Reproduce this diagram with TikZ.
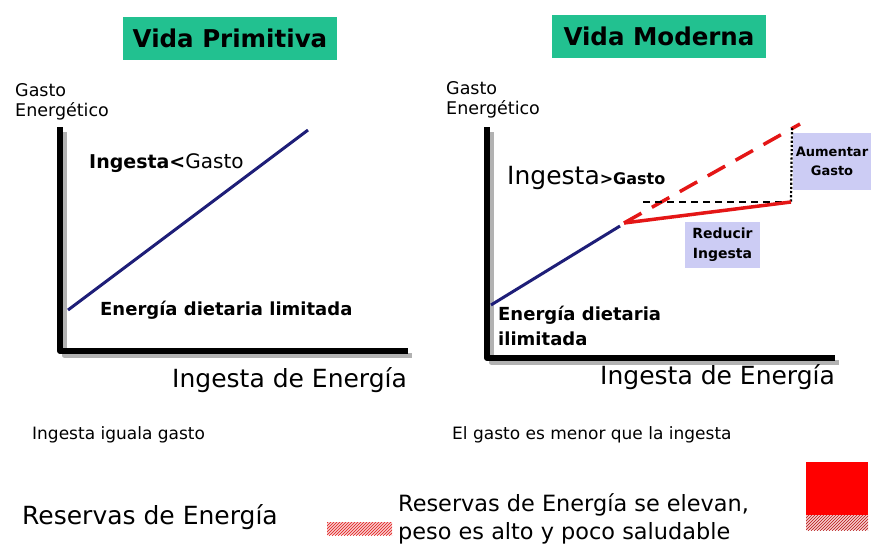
\documentclass[tikz,border=0pt]{standalone}
\usepackage{fontspec}
\setmainfont{DejaVu Sans}
\usetikzlibrary{patterns}
\definecolor{titgreen}{HTML}{22C190}
\definecolor{boxlila}{HTML}{CCCCF4}
\definecolor{lineblue}{HTML}{1E1E78}
\definecolor{linered}{HTML}{E41616}
\definecolor{hatchpink}{HTML}{F6CCCC}

\begin{document}
\begin{tikzpicture}[x=1pt, y=-1pt, line join=round,
	titbox/.style={fill=titgreen, font=\fontsize{24.5}{28}\selectfont\bfseries, minimum width=214pt, minimum height=43pt, inner sep=0pt},
	txt/.style={anchor=west, inner sep=0pt, align=left},
	lilabox/.style={fill=boxlila, align=center, font=\fontsize{13}{19}\selectfont\bfseries, inner sep=0pt},
	eje/.style={line width=6pt, line cap=rect},
	ejesombra/.style={line width=5pt, black!30, line cap=rect}]
	\useasboundingbox (0,0) rectangle (871,550);

	\node[titbox] (titA) at (230,38.5) {Vida Primitiva};
	\node[titbox] (titB) at (659,36.5) {Vida Moderna};

	\node[txt, font=\fontsize{17.5}{20}\selectfont] (gastoA) at (15,102) {Gasto\\Energético};
	\node[txt, font=\fontsize{17.5}{20}\selectfont] (gastoB) at (446,100) {Gasto\\Energético};

	\coordinate (topA) at (60,130);
	\coordinate (oA) at (60,351);
	\coordinate (endA) at (405,351);
	\draw[ejesombra] ([shift={(4,4)}]topA) -- ([shift={(4,4)}]oA) -- ([shift={(4,4)}]endA);
	\draw[eje] (topA) -- (oA) -- (endA);

	\coordinate (topB) at (487,130);
	\coordinate (oB) at (487,358);
	\coordinate (endB) at (832,358);
	\draw[ejesombra] ([shift={(4,4)}]topB) -- ([shift={(4,4)}]oB) -- ([shift={(4,4)}]endB);
	\draw[eje] (topB) -- (oB) -- (endB);

	\coordinate (blA1) at (68,310);
	\coordinate (blA2) at (308,130);
	\draw[lineblue, line width=3pt] (blA1) -- (blA2);

	\coordinate (blB1) at (491,305);
	\coordinate (blB2) at (620,226);
	\coordinate (rdB1) at (624,223);
	\coordinate (rdB2) at (800,124);
	\coordinate (rdB3) at (791,202);
	\coordinate (ngB1) at (643,202);
	\coordinate (dotB) at (792,128);
	\draw[lineblue, line width=3pt] (blB1) -- (blB2);

	\node[lilabox, minimum width=78pt, minimum height=57pt] (aumenta) at (832,161.5) {Aumentar\\Gasto};
	\node[lilabox, minimum width=75pt, minimum height=46pt, font=\fontsize{14}{20}\selectfont\bfseries] (reduce) at (722.5,245) {Reducir\\Ingesta};

	\draw[linered, line width=3.5pt, dash pattern=on 20pt off 12pt] (rdB1) -- (rdB2);
	\draw[black, line width=1.5pt, dash pattern=on 7pt off 5pt] (ngB1) -- (rdB3);
	\draw[black, line width=2.2pt, dotted] (dotB) -- (rdB3);
	\draw[linered, line width=3.5pt] (rdB1) -- (rdB3);

	\node[txt] (menorA) at (89,163) {\fontsize{19}{22}\selectfont\bfseries Ingesta<\mdseries\fontsize{20}{22}\selectfont Gasto};
	\node[txt] (mayorB) at (507,178) {\fontsize{25}{28}\selectfont Ingesta\fontsize{16}{18}\selectfont\bfseries >Gasto};

	\node[txt, font=\fontsize{18}{25}\selectfont\bfseries] (dietA) at (100,310) {Energía dietaria limitada};
	\node[txt, font=\fontsize{18}{25}\selectfont\bfseries] (dietB) at (498,325.5) {Energía dietaria\\ilimitada};

	\node[txt, font=\fontsize{25}{28}\selectfont] (ingA) at (172,380) {Ingesta de Energía};
	\node[txt, font=\fontsize{25}{28}\selectfont] (ingB) at (600,377) {Ingesta de Energía};

	\node[txt, font=\fontsize{17}{20}\selectfont] (notaA) at (32,435) {Ingesta iguala gasto};
	\node[txt, font=\fontsize{17}{20}\selectfont] (notaB) at (452,435) {El gasto es menor que la ingesta};

	\node[txt, font=\fontsize{25}{28}\selectfont] (resA) at (22,517) {Reservas de Energía};
	\node[txt, font=\fontsize{22.4}{28}\selectfont] (resB) at (398,519) {Reservas de Energía se elevan,\\peso es alto y poco saludable};

	\fill[hatchpink] (327,522) rectangle (392,535);
	\fill[pattern=north east lines, pattern color=linered] (327,522) rectangle (392,535);
	\fill[red] (806,462) rectangle (868,515);
	\fill[hatchpink] (806,515) rectangle (868,530);
	\fill[pattern=north east lines, pattern color=linered!80!black] (806,515) rectangle (868,530);
\end{tikzpicture}
\end{document}
